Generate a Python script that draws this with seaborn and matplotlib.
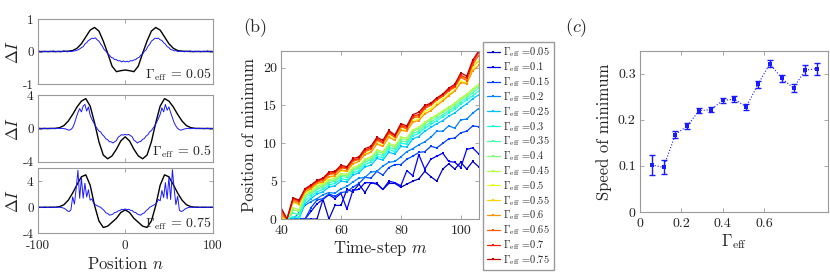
import numpy as np
import pandas as pd
import matplotlib
matplotlib.use("Agg")
import matplotlib.pyplot as plt
import seaborn as sns
from matplotlib.ticker import FormatStrFormatter

# ---- panel (a): intensity difference profiles ----
n_black = np.arange(-100, 101, 5)
n_blue = np.arange(-100, 101, 2)

black_005 = [0, 0, 0, 0, 0, 0, 0.005, 0.01, 0.03, 0.1, 0.24, 0.45, 0.66, 0.74, 0.63, 0.32, -0.05, -0.45, -0.62, -0.59, -0.57,
             -0.59, -0.62, -0.45, -0.05, 0.32, 0.63, 0.74, 0.66, 0.45, 0.24, 0.1, 0.03, 0.01, 0.005, 0, 0, 0, 0, 0, 0]
blue_005 = [0.00, 0.01, -0.01, 0.00, 0.01, 0.00, -0.01, 0.01, 0.00, 0.02, -0.01, 0.00, 0.01, -0.01, 0.00, 0.02, 0.00, -0.01, 0.01, 0.00,
            0.01, 0.02, 0.03, 0.05, 0.08, 0.12, 0.15, 0.23, 0.27, 0.34, 0.37, 0.41, 0.40, 0.42, 0.36, 0.32, 0.23, 0.16, 0.06, 0.01,
            -0.07, -0.11, -0.18, -0.20, -0.25, -0.25, -0.29, -0.28, -0.32, -0.29, -0.32,
            -0.30, -0.32, -0.28, -0.29, -0.26, -0.25, -0.20, -0.18, -0.11, -0.08, 0.01, 0.05, 0.16, 0.22, 0.32, 0.36, 0.41, 0.40, 0.41, 0.36,
            0.34, 0.27, 0.23, 0.15, 0.12, 0.06, 0.05, 0.02, 0.03, 0.00,
            0.01, 0.01, 0.00, -0.01, 0.01, 0.00, 0.02, 0.00, -0.01, 0.01, 0.00, 0.01, -0.01, 0.00, 0.01, 0.00, 0.02, 0.00, 0.01, 0.00]

black_05 = [0, 0, 0, 0.005, 0.02, 0.1, 0.35, 0.9, 1.7, 2.6, 3.3, 3.6, 2.7, 0.7, -1.6, -3.2, -3.65, -3.3, -2.5, -1.5, -1.0,
            -1.5, -2.5, -3.3, -3.65, -3.2, -1.6, 0.7, 2.7, 3.6, 3.3, 2.6, 1.7, 0.9, 0.35, 0.1, 0.02, 0.005, 0, 0, 0]
blue_05 = [0.0, 0.03, -0.03, 0.0, 0.04, -0.01, -0.03, 0.03, 0.0, 0.02, -0.03, 0.01, 0.04, 0.0, 0.02,
           -0.02, -0.05, -0.15, -0.2, -0.12, 0.1, 0.6, 1.3, 1.9, 2.4, 2.0, 2.7, 2.9, 2.1, 2.6, 1.6, 1.1, 0.7, 0.3, 0.0,
           -0.3, -0.4, -0.75, -0.95, -1.25, -1.35, -1.6, -1.6, -1.75, -1.6, -1.45, -1.05, -0.9, -0.73, -0.8, -0.7,
           -0.78, -0.72, -0.85, -1.0, -1.4, -1.55, -1.75, -1.6, -1.55, -1.3, -1.2, -0.9, -0.75, -0.4, -0.25,
           0.05, 0.35, 0.75, 1.2, 1.7, 2.5, 2.0, 2.9, 2.2, 2.6, 1.9, 1.3, 0.7, 0.3, 0.0, -0.15, -0.2, -0.12, -0.05, 0.0,
           0.02, -0.03, 0.0, 0.03, -0.01, -0.02, 0.03, 0.0, 0.02, -0.03, 0.01, 0.03, 0.0, -0.02, 0.0]

black_075 = [0, 0, 0, 0.005, 0.02, 0.1, 0.4, 1.1, 2.2, 3.5, 4.7, 5.0, 3.4, 0.3, -2.1, -3.1, -2.9, -2.3, -1.7, -0.8, -0.4,
             -0.8, -1.7, -2.3, -2.9, -3.1, -2.1, 0.3, 3.4, 5.0, 4.7, 3.5, 2.2, 1.1, 0.4, 0.1, 0.02, 0.005, 0, 0, 0]
blue_075 = [0.0, 0.03, -0.03, 0.0, 0.04, 0.0, -0.03, 0.03, 0.0, 0.02, -0.04, 0.0, 0.03, 0.0, -0.05, -0.15,
            -0.3, -0.55, -0.65, -0.4, 1.6, 0.5, 2.9, 5.7, 1.4, 4.5, 1.4, 3.7, 1.6, 2.7, 1.1, 1.3, 0.6, 0.4, 0.25, 0.1,
            0.0, -0.25, -0.5, -0.85, -0.95, -1.2, -1.15, -1.05, -0.8, -0.75, -0.55, -0.5, -0.3, -0.35, -0.25,
            -0.35, -0.3, -0.45, -0.5, -0.75, -0.8, -1.05, -1.15, -1.2, -0.95, -0.85, -0.5, -0.3, 0.0, 0.15,
            0.3, 0.45, 0.7, 1.2, 1.0, 2.6, 1.5, 3.8, 1.3, 4.6, 1.2, 5.8, 2.8, 0.4, 1.7, -0.45, -0.65, -0.55, -0.3, -0.15,
            -0.05, 0.0, 0.03, -0.03, 0.0, 0.04, 0.0, -0.03, 0.03, 0.0, 0.02, -0.03, 0.0, 0.03, 0.0]

gamma_a = ["0.05", "0.5", "0.75"]
ylims_a = [(-1, 1), (-4, 4), (-4, 6)]
yticks_a = [[-1, 0, 1], [-4, 0, 4], [-4, 0, 4]]

# ---- panel (b): position of minimum vs time-step ----
m_steps = np.arange(40, 107, 2)
gamma_b = ["0.05", "0.1", "0.15", "0.2", "0.25", "0.3", "0.35", "0.4",
           "0.45", "0.5", "0.55", "0.6", "0.65", "0.7", "0.75"]
pos_005 = [0, 0, 0, 0, 0, 0, 0, 2.6, 0, 1.8, 1.8, 3.9, 3.6, 4.6, 3.5, 4.8, 4.6, 3.9, 4.7, 4.7, 4.2, 4.6, 5.0, 5.3, 6.3, 5.6, 5.0, 6.6, 7.3, 6.6, 7.5, 6.6, 7.6, 6.9]
pos_010 = [0, 0, 0, 0, 0, 1.0, 2.0, 2.6, 3.2, 2.7, 3.4, 1.3, 3.8, 3.9, 4.8, 4.8, 4.7, 3.9, 5.0, 4.8, 4.4, 6.4, 5.7, 8.5, 6.6, 7.9, 8.3, 8.7, 7.6, 7.5, 6.8, 9.2, 9.4, 8.6]
pos_015 = [0, 0, 0, 0, 0, 1.5, 2.5, 2.7, 3.3, 3.0, 3.5, 3.6, 4.2, 4.7, 5.5, 5.4, 6.3, 5.8, 6.8, 7.2, 7.2, 7.9, 8.3, 8.8, 8.9, 9.6, 9.4, 10.0, 10.6, 10.7, 11.4, 11.6, 12.3, 12.2]
pos_020 = [0, 0, 0, 0.8, 1.8, 2.3, 2.7, 3.2, 3.5, 3.4, 4.0, 4.3, 4.9, 5.4, 5.5, 6.2, 6.3, 7.0, 7.5, 7.6, 8.2, 8.9, 9.3, 9.8, 10.2, 10.8, 11.6, 11.6, 12.3, 12.0, 13.1, 13.2, 14.0, 14.6]
pos_025 = [0, 0, 0, 0, 2.0, 2.7, 3.3, 3.6, 4.2, 4.4, 5.0, 4.9, 5.8, 6.1, 6.9, 7.1, 8.0, 7.8, 8.8, 8.6, 9.6, 9.5, 10.6, 10.9, 11.6, 12.1, 12.6, 13.0, 13.6, 14.0, 14.7, 15.2, 15.9, 16.4]
pos_030 = [0, 0, 0.3, 0.2, 2.4, 3.0, 3.6, 3.9, 4.5, 4.7, 5.3, 5.2, 6.1, 6.4, 7.2, 7.5, 8.3, 8.1, 9.2, 8.9, 10.0, 9.9, 11.0, 11.3, 12.0, 12.5, 13.0, 13.5, 14.0, 14.5, 15.2, 15.7, 16.3, 16.9]
pos_035 = [0, 0, 0.8, 0.6, 2.8, 3.3, 3.9, 4.2, 4.8, 5.0, 5.6, 5.5, 6.4, 6.7, 7.5, 7.8, 8.6, 8.4, 9.5, 9.2, 10.3, 10.2, 11.3, 11.6, 12.3, 12.8, 13.3, 13.8, 14.3, 14.8, 15.5, 16.0, 16.7, 17.3]
pos_040 = [0, 0, 1.2, 1.0, 3.1, 3.5, 4.1, 4.4, 5.0, 5.2, 5.8, 5.7, 6.6, 6.9, 7.7, 8.0, 8.9, 8.7, 9.8, 9.5, 10.6, 10.5, 11.6, 11.9, 12.6, 13.1, 13.6, 14.1, 14.6, 15.1, 15.8, 16.3, 17.0, 17.6]
pos_045 = [0, 0, 1.5, 1.2, 3.3, 3.7, 4.3, 4.6, 5.2, 5.4, 6.0, 5.9, 6.8, 7.1, 7.9, 8.2, 9.1, 8.9, 10.0, 9.7, 10.8, 10.7, 11.8, 12.1, 12.8, 13.3, 13.8, 14.3, 14.8, 15.3, 16.0, 16.5, 17.2, 17.8]
pos_050 = [0.2, 0, 2.2, 1.9, 3.5, 3.9, 4.6, 4.8, 5.5, 5.7, 6.4, 6.3, 7.3, 7.6, 8.6, 8.9, 10.0, 9.7, 11.0, 10.5, 11.9, 11.6, 13.0, 13.2, 14.2, 14.6, 15.3, 15.8, 16.5, 17.0, 18.2, 18.0, 19.9, 21.0]
pos_055 = [0.3, 0, 2.6, 2.3, 3.8, 4.3, 4.9, 5.2, 5.9, 6.1, 6.8, 6.7, 7.7, 8.0, 9.0, 9.3, 10.5, 10.1, 11.4, 10.9, 12.3, 12.0, 13.5, 13.7, 14.7, 15.1, 15.8, 16.3, 17.0, 17.5, 18.8, 18.5, 20.3, 20.8]
pos_060 = [0.5, 0, 2.3, 2.0, 3.6, 4.0, 4.7, 4.9, 5.6, 5.7, 6.5, 6.3, 7.3, 7.6, 8.5, 8.8, 9.9, 9.6, 10.8, 10.4, 11.7, 11.6, 12.8, 13.0, 13.9, 14.3, 15.0, 15.6, 16.3, 16.9, 18.0, 17.9, 19.6, 20.3]
pos_065 = [0.8, 0, 2.5, 2.2, 3.8, 4.2, 4.9, 5.1, 5.9, 6.0, 6.8, 6.6, 7.6, 7.9, 8.9, 9.2, 10.4, 10.0, 11.3, 10.8, 12.2, 11.9, 13.4, 13.5, 14.6, 15.0, 15.7, 16.2, 16.9, 17.4, 18.7, 18.3, 20.4, 21.6]
pos_070 = [1.2, 0, 2.7, 2.4, 3.9, 4.4, 5.0, 5.3, 6.0, 6.2, 6.9, 6.8, 7.8, 8.0, 9.1, 9.4, 10.6, 10.2, 11.5, 11.0, 12.4, 12.1, 13.6, 13.8, 14.8, 15.2, 15.9, 16.4, 17.1, 17.6, 19.0, 18.6, 20.7, 22.0]
pos_075 = [1.5, 0, 2.8, 2.5, 4.0, 4.5, 5.1, 5.4, 6.2, 6.3, 7.1, 6.9, 8.0, 8.2, 9.3, 9.6, 10.8, 10.4, 11.7, 11.1, 12.6, 12.3, 13.8, 14.1, 15.0, 15.3, 16.0, 16.5, 17.3, 17.8, 19.3, 18.9, 21.0, 22.2]
positions = [pos_005, pos_010, pos_015, pos_020, pos_025, pos_030, pos_035, pos_040,
             pos_045, pos_050, pos_055, pos_060, pos_065, pos_070, pos_075]

# ---- panel (c): speed of minimum (x positions) ----
gamma_c = [0.057, 0.114, 0.171, 0.229, 0.286, 0.343, 0.400, 0.457, 0.514, 0.571, 0.629, 0.686, 0.743, 0.800, 0.857]
speed = [0.102, 0.097, 0.168, 0.187, 0.220, 0.222, 0.242, 0.245, 0.228, 0.277, 0.322, 0.290, 0.269, 0.308, 0.311]
speed_err = [0.022, 0.015, 0.008, 0.007, 0.005, 0.006, 0.006, 0.006, 0.006, 0.007, 0.007, 0.007, 0.008, 0.010, 0.013]

sns.set_style("ticks")
plt.rcParams['font.family'] = 'serif'
plt.rcParams['font.serif'] = ['cmr10', 'DejaVu Serif']
plt.rcParams['mathtext.fontset'] = 'cm'
plt.rcParams['axes.unicode_minus'] = False
plt.rcParams['axes.formatter.use_mathtext'] = True

grey = '#9a9a9a'


def matlab_box(ax, size=10):
    for s in ax.spines.values():
        s.set_color(grey)
        s.set_linewidth(0.8)
    ax.tick_params(direction='in', top=True, right=True, length=3, width=0.6,
                   color=grey, labelsize=size, pad=3, labelcolor='#222222')
    ax.tick_params(axis='x', pad=4.5)


fig = plt.figure(figsize=(8.3, 2.73), dpi=100)

# panel (a)
boxes_a = [[0.0454, 0.6923, 0.2108, 0.238], [0.0454, 0.4077, 0.2108, 0.2432], [0.0454, 0.1454, 0.2108, 0.238]]
blacks = [black_005, black_05, black_075]
blues = [blue_005, blue_05, blue_075]
for i in range(3):
    ax = fig.add_axes(boxes_a[i])
    sns.lineplot(x=n_black, y=blacks[i], color='black', lw=1.0, ax=ax, legend=False)
    sns.lineplot(x=n_blue, y=blues[i], color='#1a1aff', lw=0.7, ax=ax, legend=False)
    ax.set_xlim(-100, 100)
    ax.set_ylim(*ylims_a[i])
    ax.set_xticks([-100, 0, 100])
    ax.set_yticks(yticks_a[i])
    ax.yaxis.set_major_formatter(FormatStrFormatter('%g'))
    ax.xaxis.set_major_formatter(FormatStrFormatter('%g'))
    matlab_box(ax, 9.5)
    ax.set_ylabel(r'$\Delta I$', fontsize=12, labelpad=1)
    ax.text(0.995, 0.02, r'$\Gamma_{\rm eff}$ = ' + gamma_a[i], transform=ax.transAxes,
            ha='right', va='bottom', fontsize=10)
    if i < 2:
        ax.tick_params(labelbottom=False)
    else:
        ax.set_xlabel(r'Position $n$', fontsize=12, labelpad=3)

# panel (b)
axb = fig.add_axes([0.3386, 0.1978, 0.2389, 0.6154])
cmap = plt.get_cmap('jet')
cols = [cmap(v) for v in np.linspace(0.0625, 0.9375, 15)]
for g, vals, c in zip(gamma_b, positions, cols):
    sns.lineplot(x=m_steps, y=vals, color=c, lw=0.9, marker='s', markersize=2.0,
                 markeredgewidth=0, label=r'$\Gamma_{\rm eff}$ =' + g, ax=axb)
axb.set_xlim(40, 106.2)
axb.set_ylim(0, 22.2)
axb.set_xticks([40, 60, 80, 100])
axb.set_yticks([0, 5, 10, 15, 20])
axb.xaxis.set_major_formatter(FormatStrFormatter('%g'))
axb.yaxis.set_major_formatter(FormatStrFormatter('%g'))
matlab_box(axb)
axb.set_xlabel(r'Time-step $m$', fontsize=12, labelpad=1)
axb.set_ylabel('Position of minimum', fontsize=12, labelpad=4)
h, l = axb.get_legend_handles_labels()
axb.legend(h, l, loc='upper left', bbox_to_anchor=(0.582, 0.846), bbox_transform=fig.transFigure,
           fontsize=7.5, handlelength=1.3, handletextpad=0.3, labelspacing=0.1, borderpad=0.35,
           borderaxespad=0, frameon=True, fancybox=False, edgecolor=grey, framealpha=1)
fig.text(0.308, 0.90, '(b)', fontsize=13, ha='center', va='center')

# panel (c)
axc = fig.add_axes([0.7711, 0.2234, 0.2265, 0.5908])
sns.lineplot(x=gamma_c, y=speed, color='#1a1aff', lw=0.8, ls=':', marker='s', markersize=2.5,
             markeredgewidth=0, ax=axc, legend=False)
axc.errorbar(gamma_c, speed, yerr=speed_err, fmt='none', ecolor='#1a1aff', elinewidth=1.0, capsize=2)
axc.set_xlim(0, 0.91)
axc.set_ylim(0, 0.35)
axc.set_xticks([0, 0.2, 0.4, 0.6])
axc.set_yticks([0, 0.1, 0.2, 0.3])
axc.xaxis.set_major_formatter(FormatStrFormatter('%g'))
axc.yaxis.set_major_formatter(FormatStrFormatter('%g'))
matlab_box(axc)
axc.set_xlabel(r'$\Gamma_{\rm eff}$', fontsize=12, labelpad=1)
axc.set_ylabel('Speed of minimum', fontsize=12, labelpad=4)
fig.text(0.694, 0.90, r'$(c)$', fontsize=13, ha='center', va='center')

fig.savefig('out.png', dpi=100)
